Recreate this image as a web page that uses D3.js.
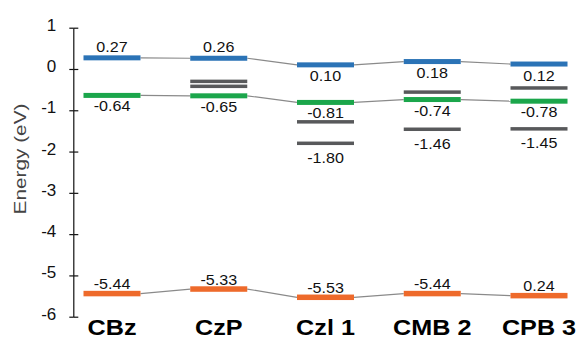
<!DOCTYPE html>
<html>
<head>
<meta charset="utf-8">
<script src="https://cdn.jsdelivr.net/npm/d3@7"></script>
<style>
  html, body { margin: 0; padding: 0; background: #fff; }
  svg { display: block; font-family: "Liberation Sans", Arial, Helvetica, sans-serif; }
</style>
</head>
<body>
<svg id="chart" width="579" height="340"></svg>
<script>
// Molecules along the x axis
const categories = ["CBz", "CzP", "Czl 1", "CMB 2", "CPB 3"];

// LUMO levels (blue)
const lumoValues = [0.27, 0.26, 0.10, 0.18, 0.12];
const lumoLabels = ["0.27", "0.26", "0.10", "0.18", "0.12"];

// T1 levels (green)
const t1Values = [-0.64, -0.65, -0.81, -0.74, -0.78];
const t1Labels = ["-0.64", "-0.65", "-0.81", "-0.74", "-0.78"];

// HOMO levels (orange)
const homoValues = [-5.44, -5.33, -5.53, -5.44, -5.49];
const homoLabels = ["-5.44", "-5.33", "-5.53", "-5.44", "0.24"];

// Additional levels (grey)
const extraCats = ["CzP", "CzP", "Czl 1", "Czl 1", "CMB 2", "CMB 2", "CPB 3", "CPB 3"];
const extraValues = [-0.30, -0.42, -1.28, -1.80, -0.56, -1.46, -0.46, -1.45];
const extraLabels = ["", "", "", "-1.80", "", "-1.46", "", "-1.45"];

// Y axis ticks
const yTicks = [1, 0, -1, -2, -3, -4, -5, -6];

const svg = d3.select("#chart");

const x = d3.scalePoint().domain(categories).range([112, 539]);
const y = d3.scaleLinear().domain([-6, 1]).range([316.7, 27.7]);
const barW = 57;

// Axis
const axis = d3.axisLeft(y)
  .tickValues(yTicks)
  .tickFormat(d3.format("d"))
  .tickSizeInner(4)
  .tickSizeOuter(0)
  .tickPadding(13);

const gAxis = svg.append("g")
  .attr("transform", "translate(73.3,0)")
  .call(axis);
gAxis.select(".domain").attr("stroke", "#111").attr("stroke-width", 1.2);
gAxis.selectAll(".tick line").attr("stroke", "#111").attr("stroke-width", 1.2);
gAxis.selectAll(".tick").append("line")
  .attr("x1", 0).attr("x2", 5)
  .attr("stroke", "#111").attr("stroke-width", 1.2);
gAxis.selectAll(".tick text")
  .attr("font-size", 17)
  .attr("fill", "#111")
  .attr("dy", "0.15em")
  .text(d => d < 0 ? "-" + Math.abs(d) : d);

// Axis title
svg.append("text")
  .attr("transform", "translate(26,159) rotate(-90) scale(1.3,1)")
  .attr("text-anchor", "middle")
  .attr("font-size", 16)
  .attr("fill", "#444")
  .text("Energy (eV)");

// Connector lines between neighbouring molecules for a series
function connectors(values, layer) {
  const segs = d3.pairs(categories.map((c, i) => ({ c, v: values[i] })));
  layer.selectAll(null)
    .data(segs)
    .join("line")
    .attr("x1", d => x(d[0].c) + barW / 2)
    .attr("y1", d => y(d[0].v))
    .attr("x2", d => x(d[1].c) - barW / 2)
    .attr("y2", d => y(d[1].v))
    .attr("stroke", "#8a8a8a")
    .attr("stroke-width", 1.2);
}

// Level bars
function bars(cats, values, color, thick, layer) {
  layer.selectAll(null)
    .data(values.map((v, i) => ({ c: cats[i], v })))
    .join("rect")
    .attr("x", d => x(d.c) - barW / 2)
    .attr("y", d => y(d.v) - thick / 2)
    .attr("width", barW)
    .attr("height", thick)
    .attr("fill", color);
}

// Value labels; offset is the baseline shift from the level
function labels(cats, values, texts, offsetFn, layer) {
  layer.selectAll(null)
    .data(values.map((v, i) => ({ c: cats[i], v, t: texts[i], i })))
    .join("text")
    .filter(d => d.t !== "")
    .attr("transform", d => `translate(${x(d.c)},${y(d.v) + offsetFn(d)}) scale(1.15,1)`)
    .attr("text-anchor", "middle")
    .attr("font-size", 14)
    .attr("fill", "#111")
    .text(d => d.t);
}

const gLines = svg.append("g");
const gBars = svg.append("g");
const gLabels = svg.append("g");

connectors(lumoValues, gLines);
connectors(t1Values, gLines);
connectors(homoValues, gLines);

bars(extraCats, extraValues, "#58595b", 3.5, gBars);
bars(categories, lumoValues, "#2b73b6", 5, gBars);
bars(categories, t1Values, "#1ba64b", 5, gBars);
bars(categories, homoValues, "#ee6a2b", 5.5, gBars);

// LUMO labels sit above the bar for the first two molecules, below for the rest
labels(categories, lumoValues, lumoLabels, d => d.i < 2 ? -6 : 16.5, gLabels);
labels(categories, t1Values, t1Labels, () => 16, gLabels);
labels(categories, homoValues, homoLabels, () => -4.5, gLabels);
labels(extraCats, extraValues, extraLabels, () => 19.5, gLabels);

// Molecule names
svg.append("g")
  .selectAll("text")
  .data(categories)
  .join("text")
  .attr("transform", d => `translate(${x(d)},335) scale(1.12,1)`)
  .attr("text-anchor", "middle")
  .attr("font-size", 22.5)
  .attr("font-weight", "bold")
  .attr("fill", "#000")
  .text(d => d);
</script>
</body>
</html>
